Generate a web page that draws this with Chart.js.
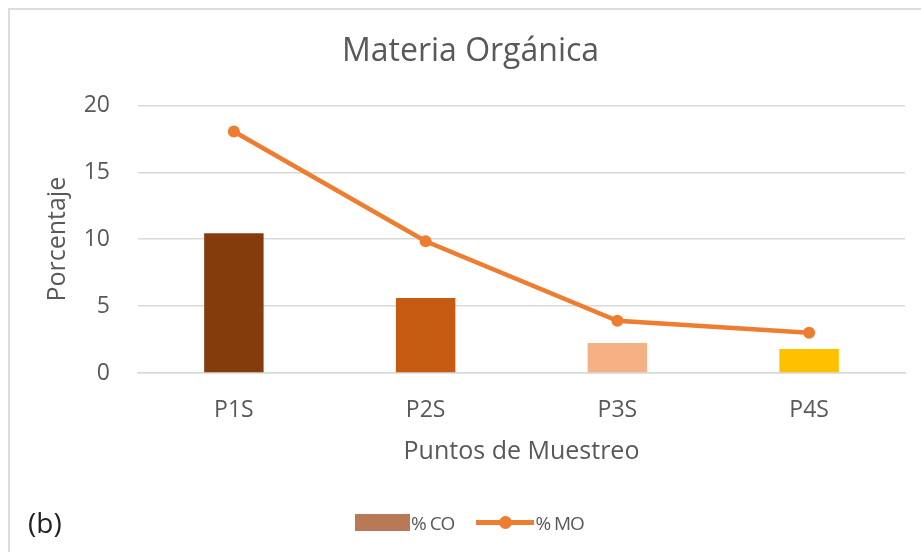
<!DOCTYPE html>
<html>
<head>
<meta charset="utf-8">
<script src="https://cdn.jsdelivr.net/npm/chart.js@4"></script>
<style>
  html, body { margin: 0; padding: 0; background: #fff; }
  #wrap { position: relative; width: 921px; height: 552px; overflow: hidden; }
  #frame { position: absolute; left: 8px; top: 8px; width: 1000px; height: 1000px;
           border-top: 2px solid #dcdcdc; border-left: 2px solid #dcdcdc; }
  #legend { position: absolute; top: 508px; left: 355px; white-space: nowrap;
            font-family: 'Open Sans', sans-serif; font-size: 19px; color: #595959; letter-spacing: -1px; }
  #legend span { display: inline-block; vertical-align: middle; }
  #tag { position: absolute; left: 28px; top: 503px; font-family: 'Open Sans', sans-serif;
         font-size: 28px; color: #222; }
</style>
</head>
<body>
<div id="wrap">
  <div id="frame"></div>
  <canvas id="myChart" width="921" height="552"></canvas>
  <div id="legend"></div>
  <div id="tag">(b)</div>
</div>
<script>
// data
const categories = ['P1S', 'P2S', 'P3S', 'P4S'];
const coValues = [10.45, 5.6, 2.25, 1.8];
const moValues = [18.05, 9.85, 3.9, 3.0];
const yTicks = [0, 5, 10, 15, 20];

// each bar has its own color, legend uses a mid brown
const barColors = ['#843C0C', '#C55A11', '#F4B183', '#FFC000'];
const coLegendColor = '#B87A56';
const moColor = '#ED7D31';
const textColor = '#595959';

const font = "'Open Sans', sans-serif";

const config = {
  data: {
    labels: categories,
    datasets: [
      {
        type: 'line',
        label: '% MO',
        data: moValues,
        borderColor: moColor,
        backgroundColor: moColor,
        borderWidth: 4.5,
        pointRadius: 6,
        pointBackgroundColor: moColor,
        pointBorderWidth: 0,
        tension: 0,
        order: 0
      },
      {
        type: 'bar',
        label: '% CO',
        data: coValues,
        backgroundColor: barColors,
        barPercentage: 0.62,
        categoryPercentage: 0.5,
        order: 1
      }
    ]
  },
  options: {
    responsive: false,
    animation: false,
    // left padding bigger so the title centres where the reference has it
    layout: { padding: { left: 36, right: 16, top: 26, bottom: 85 } },
    plugins: {
      legend: { display: false },
      tooltip: { enabled: false },
      title: {
        display: true,
        text: 'Materia Orgánica',
        color: textColor,
        font: { family: font, size: 32, weight: 'normal' },
        padding: { top: 7, bottom: 34 }
      }
    },
    scales: {
      x: {
        afterFit: (scale) => { scale.height = 94; },
        grid: { display: false },
        border: { display: true, color: '#d9d9d9', width: 1.5 },
        ticks: { color: textColor, font: { family: font, size: 23 }, padding: 16 },
        title: {
          display: true,
          text: 'Puntos de Muestreo',
          color: textColor,
          font: { family: font, size: 25 },
          padding: { top: 10, bottom: 0 }
        }
      },
      y: {
        min: 0,
        max: 20,
        afterBuildTicks: (scale) => { scale.ticks = yTicks.map(v => ({ value: v })); },
        afterFit: (scale) => { scale.width = 102; },
        grid: { color: '#d9d9d9', lineWidth: 1.5, drawTicks: false },
        border: { display: false },
        ticks: { color: textColor, font: { family: font, size: 23 }, padding: 28 },
        title: {
          display: true,
          text: 'Porcentaje',
          color: textColor,
          font: { family: font, size: 25 },
          padding: { top: 7, bottom: 0 }
        }
      }
    }
  }
};

const ctx = document.getElementById('myChart').getContext('2d');
const myChart = new Chart(ctx, config);

// legend like the spreadsheet one: swatch for the bars, line with dot for the line
const legend = document.getElementById('legend');
legend.innerHTML =
  '<span style="width:55px;height:17px;background:' + coLegendColor + ';margin-right:1px"></span>' +
  '<span>' + config.data.datasets[1].label + '</span>' +
  '<span style="position:relative;width:58px;height:5px;background:' + moColor + ';margin:0 1px 0 22px">' +
  '<span style="position:absolute;left:23px;top:-4px;width:13px;height:13px;border-radius:50%;background:' + moColor + '"></span></span>' +
  '<span>' + config.data.datasets[0].label + '</span>';
</script>
</body>
</html>
